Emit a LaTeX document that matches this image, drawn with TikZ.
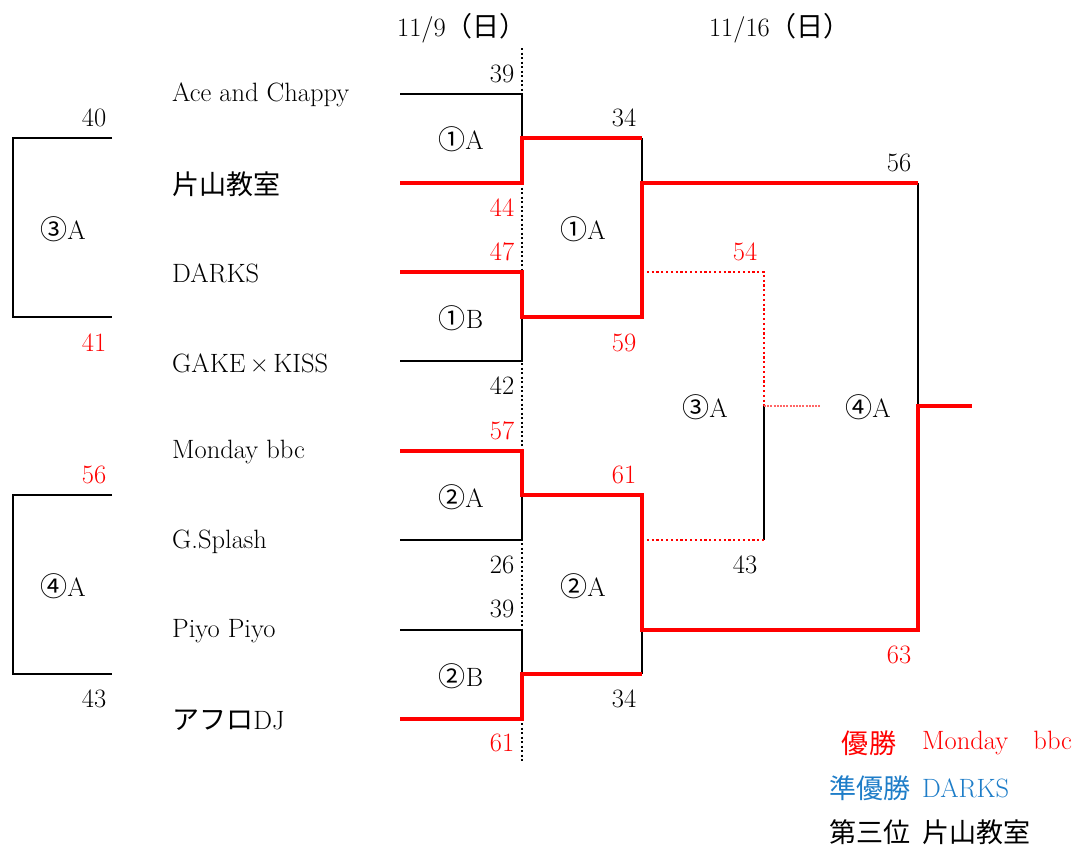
\documentclass[tikz,border=0pt]{standalone}
\usepackage{fontspec}
\newfontfamily\jp[Scale=1.02]{Noto Sans CJK JP}
\definecolor{winred}{RGB}{255,0,0}
\definecolor{runblue}{RGB}{30,125,200}
\newcommand\fsz{\fontsize{26.5}{30}\selectfont}
\tikzset{
  blk/.style={line width=2pt, black, line join=miter},
  win/.style={line width=4.4pt, winred, line join=miter},
  third/.style={line width=2.2pt, winred, dash pattern=on 2.2pt off 2.6pt},
  tiedot/.style={line width=1.6pt, winred!60, dash pattern=on 2pt off 1.2pt},
  dayline/.style={line width=2pt, black, dash pattern=on 2pt off 2.5pt},
  lbl/.style={font=\fsz, inner sep=0pt},
  team/.style={lbl, anchor=west},
  sc/.style={lbl},
  scr/.style={lbl, text=winred},
}
\begin{document}
\begin{tikzpicture}[x=1pt,y=-1pt]
\useasboundingbox (0,0) rectangle (1076,846);

% ---------- headers ----------
\node[lbl] (d1) at (462,28) {11/9{\jp（日）}};
\node[lbl] (d2) at (780,28) {11/16{\jp（日）}};

% ---------- day separator ----------
\coordinate (sepT) at (522,48);
\coordinate (sepB) at (522,762);
\draw[dayline] (sepT) -- (sepB);

% ---------- teams ----------
\node[team] (n1) at (172,95)  {Ace and Chappy};
\node[team] (n2) at (172,184) {\jp 片山教室};
\node[team] (n3) at (172,273) {DARKS};
\node[team] (n4) at (172,363) {GAKE\,×\,KISS};
\node[team] (n5) at (172,452) {Monday bbc};
\node[team] (n6) at (172,542) {G.Splash};
\node[team] (n7) at (172,631) {Piyo Piyo};
\node[team] (n8) at (172,720) {{\jp アフロ}DJ};

% ---------- coordinates ----------
\foreach \i/\y in {1/94,2/183,3/272,4/361,5/451,6/540,7/630,8/719}{
  \coordinate (s\i) at (400,\y);
  \coordinate (e\i) at (522,\y);
}
\coordinate (q1) at (522,138); \coordinate (q1r) at (642,138);
\coordinate (q2) at (522,317); \coordinate (q2r) at (642,317);
\coordinate (q3) at (522,495); \coordinate (q3r) at (642,495);
\coordinate (q4) at (522,674); \coordinate (q4r) at (642,674);
\coordinate (h1) at (642,183); \coordinate (h1r) at (918,183);
\coordinate (h2) at (642,630); \coordinate (h2r) at (918,630);
\coordinate (fm) at (918,406); \coordinate (champ) at (972,406);
\coordinate (t1) at (642,272); \coordinate (t1r) at (764,272);
\coordinate (t2) at (642,540); \coordinate (t2r) at (764,540);
\coordinate (tm) at (764,406); \coordinate (tmr) at (820,406);

% ---------- black brackets ----------
\draw[blk] (s1) -- (e1) -- (q1);
\draw[blk] (s4) -- (e4) -- (q2);
\draw[blk] (s6) -- (e6) -- (q3);
\draw[blk] (s7) -- (e7) -- (q4);
\draw[blk] (q1r) -- (h1);
\draw[blk] (q4r) -- (h2);
\draw[blk] (h1r) -- (fm);
\draw[blk] (tm) -- (t2r);

% ---------- third place (dotted) ----------
\draw[third] (t1) -- (t1r) -- (tm);
\draw[third] (t2) -- (t2r);
\draw[tiedot] (tm) -- (tmr);

% ---------- winner paths ----------
\draw[win] (s2) -- (e2) -- (q1) -- (q1r);
\draw[win] (s3) -- (e3) -- (q2) -- (q2r) -- (h1) -- (h1r);
\draw[win] (s5) -- (e5) -- (q3) -- (q3r) -- (h2) -- (h2r) -- (fm) -- (champ);
\draw[win] (s8) -- (e8) -- (q4) -- (q4r);

% ---------- match labels ----------
\node[lbl] (m1) at (461,139) {{\jp ①}A};
\node[lbl] (m2) at (461,318) {{\jp ①}B};
\node[lbl] (m3) at (461,497) {{\jp ②}A};
\node[lbl] (m4) at (461,676) {{\jp ②}B};
\node[lbl] (m5) at (583,229) {{\jp ①}A};
\node[lbl] (m6) at (583,586) {{\jp ②}A};
\node[lbl] (m7) at (705,407) {{\jp ③}A};
\node[lbl] (m8) at (868,407) {{\jp ④}A};

% ---------- scores ----------
\node[sc]  (a1) at (502,74)  {39};
\node[scr] (a2) at (502,208) {44};
\node[scr] (a3) at (502,252) {47};
\node[sc]  (a4) at (502,386) {42};
\node[scr] (a5) at (502,431) {57};
\node[sc]  (a6) at (502,565) {26};
\node[sc]  (a7) at (502,609) {39};
\node[scr] (a8) at (502,743) {61};
\node[sc]  (b1) at (624,118) {34};
\node[scr] (b2) at (624,343) {59};
\node[scr] (b3) at (624,475) {61};
\node[sc]  (b4) at (624,699) {34};
\node[scr] (c1) at (745,252) {54};
\node[sc]  (c2) at (745,565) {43};
\node[sc]  (f1) at (899,163) {56};
\node[scr] (f2) at (899,655) {63};

% ---------- left side brackets ----------
\coordinate (L1t) at (13,138); \coordinate (L1tr) at (112,138);
\coordinate (L1b) at (13,317); \coordinate (L1br) at (112,317);
\coordinate (L2t) at (13,495); \coordinate (L2tr) at (112,495);
\coordinate (L2b) at (13,674); \coordinate (L2br) at (112,674);
\draw[blk] (L1tr) -- (L1t) -- (L1b) -- (L1br);
\draw[blk] (L2tr) -- (L2t) -- (L2b) -- (L2br);
\node[lbl] (p1) at (63,229) {{\jp ③}A};
\node[lbl] (p2) at (63,586) {{\jp ④}A};
\node[sc]  (p1a) at (94,118) {40};
\node[scr] (p1b) at (94,343) {41};
\node[scr] (p2a) at (94,475) {56};
\node[sc]  (p2b) at (94,699) {43};

% ---------- legend ----------
\node[lbl, text=winred]  (g1) at (869,743) {\jp 優勝};
\node[lbl, text=winred, anchor=west] (g1n) at (922,743) {Monday\hspace{0.95em}bbc};
\node[lbl, text=runblue, anchor=west] (g2) at (829,788) {\jp 準優勝};
\node[lbl, text=runblue, anchor=west] (g2n) at (922,788) {DARKS};
\node[lbl, anchor=west] (g3) at (829,832) {\jp 第三位};
\node[lbl, anchor=west] (g3n) at (922,832) {\jp 片山教室};
\end{tikzpicture}
\end{document}
